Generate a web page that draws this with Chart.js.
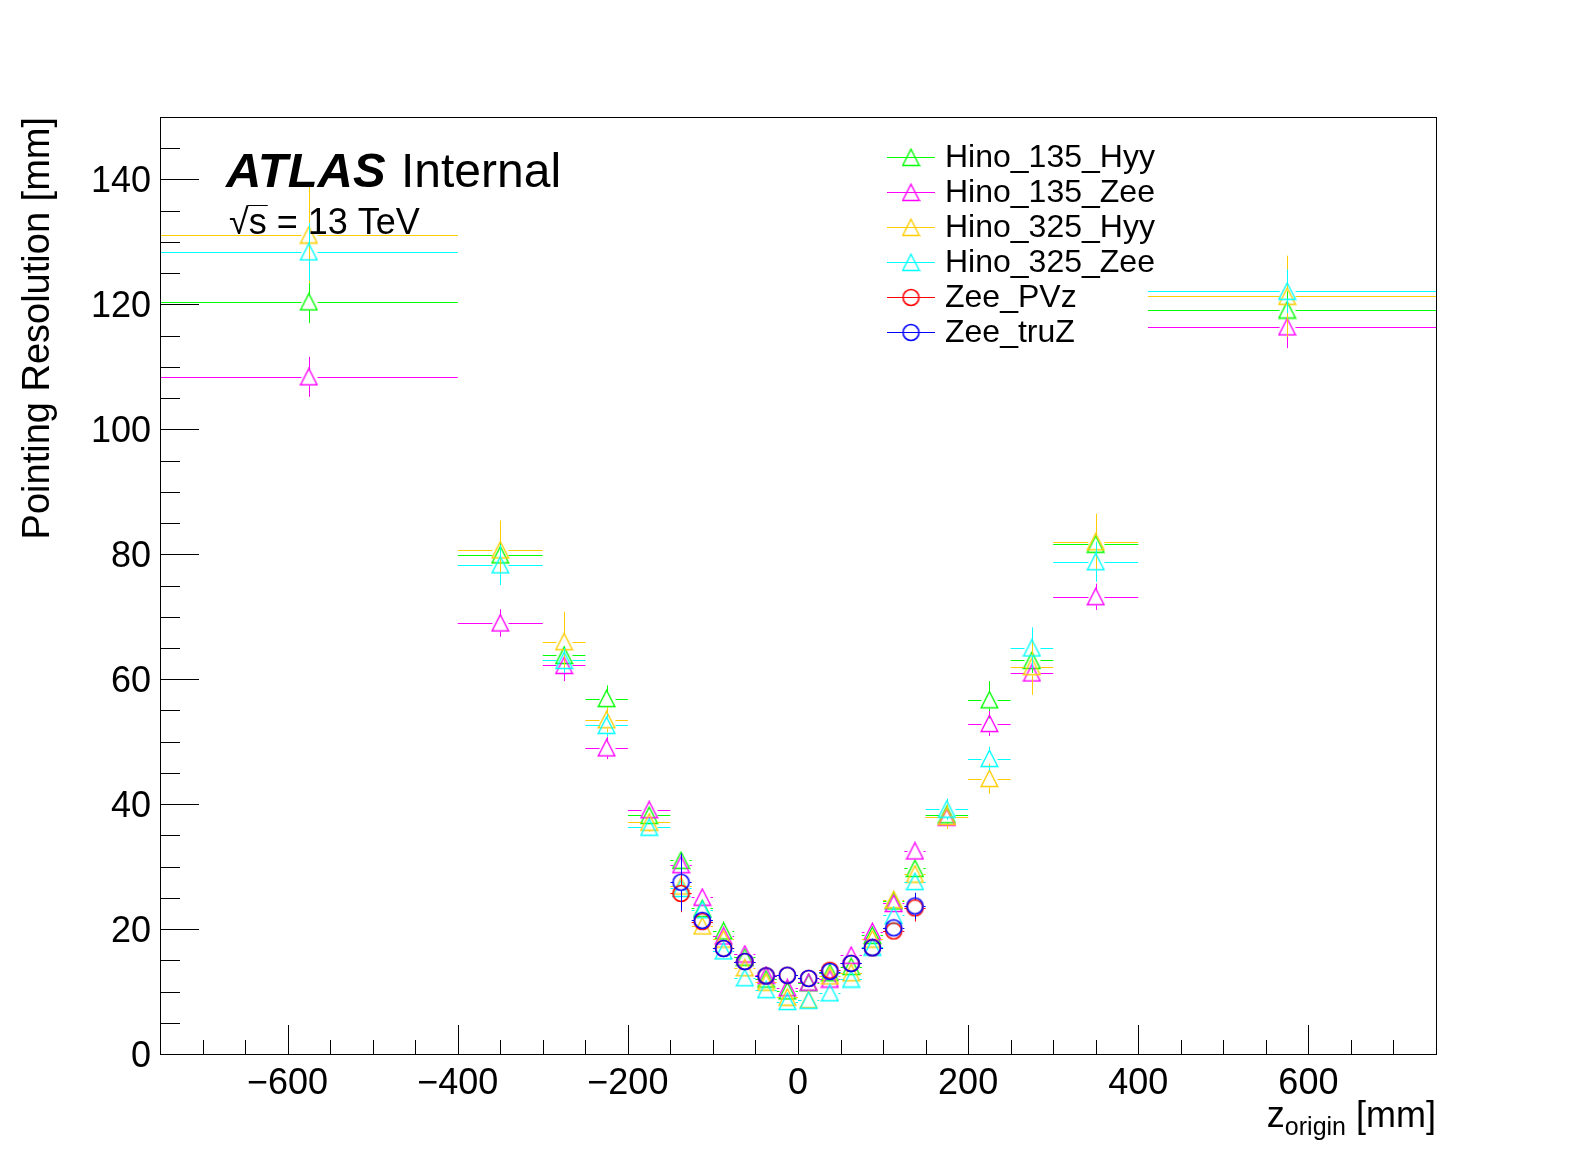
<!DOCTYPE html>
<html>
<head>
<meta charset="utf-8">
<title>Pointing Resolution</title>
<script src="https://cdn.jsdelivr.net/npm/chart.js@4.4.1/dist/chart.umd.min.js"></script>
<style>
  html, body { margin: 0; padding: 0; background: #fff; }
  canvas { display: block; }
</style>
</head>
<body>
<canvas id="resolution" width="1596" height="1172"></canvas>
<script>
// z_origin bins [mm]: centre and half width
const binCenters = [-575, -350, -275, -225, -175, -137.5, -112.5, -87.5, -62.5, -37.5, -12.5,
    12.5, 37.5, 62.5, 87.5, 112.5, 137.5, 175, 225, 275, 350, 575];
const binHalfWidths = [175, 50, 25, 25, 25, 12.5, 12.5, 12.5, 12.5, 12.5, 12.5,
    12.5, 12.5, 12.5, 12.5, 12.5, 12.5, 25, 25, 25, 50, 175];

// pointing resolution [mm] and its error, one pair of arrays per sample
const hino135Hyy = [120.4, 79.9, 63.8, 56.9, 38.2, 31.0, 23.3, 19.7, 15.5, 12.0, 10.1,
    11.4, 13.0, 14.0, 19.0, 24.5, 29.7, 38.3, 56.7, 63.0, 81.6, 119.1];
const hino135HyyErr = [3.4, 2.8, 1.5, 2.1, 1.2, 1.0, 0.9, 0.8, 0.7, 0.6, 0.6,
    0.6, 0.6, 0.7, 0.8, 1.0, 1.1, 1.3, 3.0, 2.0, 3.0, 3.0];
const hino135Zee = [108.4, 69.0, 62.2, 49.0, 39.1, 30.3, 25.1, 18.9, 16.0, 12.6, 10.6,
    11.5, 12.0, 15.8, 19.6, 24.1, 32.5, 37.9, 52.9, 61.0, 73.2, 116.4];
const hino135ZeeErr = [3.2, 2.2, 2.5, 1.8, 1.2, 1.0, 0.9, 0.8, 0.7, 0.6, 0.6,
    0.6, 0.6, 0.7, 0.8, 0.9, 1.1, 1.3, 2.0, 2.0, 2.1, 3.4];
const hino325Hyy = [131.1, 80.7, 66.0, 53.5, 37.1, 26.9, 20.5, 18.4, 13.8, 11.5, 9.1,
    8.7, 12.5, 13.0, 18.4, 24.7, 28.8, 38.0, 44.1, 62.0, 82.0, 121.3];
const hino325HyyErr = [7.7, 4.7, 4.8, 2.0, 1.5, 1.3, 1.0, 1.0, 0.8, 0.7, 0.7,
    0.7, 0.7, 0.8, 1.0, 1.2, 1.4, 2.0, 2.4, 4.5, 4.5, 6.5];
const hino325Zee = [128.4, 78.3, 63.0, 52.6, 36.3, 26.5, 23.1, 16.5, 12.2, 10.3, 8.4,
    8.6, 9.8, 12.0, 17.1, 22.2, 27.6, 39.2, 47.3, 65.0, 78.8, 122.1];
const hino325ZeeErr = [4.6, 3.2, 2.0, 1.8, 1.4, 1.0, 0.9, 0.8, 0.7, 0.6, 0.6,
    0.6, 0.6, 0.7, 0.8, 0.9, 1.0, 1.7, 1.9, 3.3, 3.2, 3.5];
// Zee samples only fill the central bins
const zeePVz = [null, null, null, null, null, 25.7, 21.2, 16.9, 14.8, 12.5, 12.6,
    12.1, 13.4, 14.5, 17.0, 19.7, 23.4, null, null, null, null, null];
const zeePVzErr = [null, null, null, null, null, 3.0, 1.0, 0.8, 0.6, 0.5, 0.5,
    0.5, 0.5, 0.6, 0.8, 1.0, 2.2, null, null, null, null, null];
const zeeTruZ = [null, null, null, null, null, 27.5, 21.4, 16.9, 14.8, 12.5, 12.6,
    12.1, 13.2, 14.5, 17.0, 20.2, 23.7, null, null, null, null, null];
const zeeTruZErr = [null, null, null, null, null, 4.6, 1.0, 0.8, 0.6, 0.5, 0.5,
    0.5, 0.5, 0.6, 0.8, 1.0, 2.1, null, null, null, null, null];

const seriesNames = ['Hino_135_Hyy', 'Hino_135_Zee', 'Hino_325_Hyy', 'Hino_325_Zee', 'Zee_PVz', 'Zee_truZ'];
const seriesValues = [hino135Hyy, hino135Zee, hino325Hyy, hino325Zee, zeePVz, zeeTruZ];
const seriesErrors = [hino135HyyErr, hino135ZeeErr, hino325HyyErr, hino325ZeeErr, zeePVzErr, zeeTruZErr];
const seriesColors = ['#00ff00', '#ff00ff', '#ffcc00', '#00ffff', '#ff0000', '#0000ff'];
const seriesMarkers = ['triangle', 'triangle', 'triangle', 'triangle', 'circle', 'circle'];

const xTickValues = [-600, -400, -200, 0, 200, 400, 600];
const yTickValues = [0, 20, 40, 60, 80, 100, 120, 140];
const xMinorStep = 50;
const yMinorStep = 5;

const FONT = '"Liberation Sans", Arial, Helvetica, sans-serif';

// open ROOT-like markers drawn once into small canvases
function makeMarker(shape, color) {
    const c = document.createElement('canvas');
    c.width = 19;
    c.height = 19;
    const g = c.getContext('2d');
    g.strokeStyle = color;
    g.beginPath();
    if (shape === 'triangle') {
        g.lineWidth = 1.4;
        g.moveTo(9.5, 1.2);
        g.lineTo(17.8, 17.5);
        g.lineTo(1.2, 17.5);
        g.closePath();
    } else {
        g.lineWidth = 1.6;
        g.arc(9.5, 9.5, 8, 0, Math.PI * 2);
    }
    g.stroke();
    return c;
}
const markerImages = seriesColors.map((col, i) => makeMarker(seriesMarkers[i], col));

// scatter datasets, later samples drawn on top (like ROOT)
const datasets = seriesNames.map((name, i) => ({
    label: name,
    data: binCenters
        .map((x, j) => ({ x: x, y: seriesValues[i][j], xErr: binHalfWidths[j], yErr: seriesErrors[i][j] }))
        .filter(p => p.y !== null),
    borderColor: seriesColors[i],
    backgroundColor: 'rgba(0,0,0,0)',
    pointStyle: markerImages[i],
    pointRadius: 8,
    showLine: false,
    order: seriesNames.length - i
}));

const errorBarPlugin = {
    id: 'errorBars',
    beforeDatasetDraw(chart, args) {
        const ds = chart.data.datasets[args.index];
        const xs = chart.scales.x;
        const ys = chart.scales.y;
        const area = chart.chartArea;
        const ctx = chart.ctx;
        const gap = 8;
        ctx.save();
        ctx.beginPath();
        ctx.rect(area.left, area.top, area.right - area.left, area.bottom - area.top);
        ctx.clip();
        ctx.strokeStyle = ds.borderColor;
        ctx.lineWidth = 1;
        ds.data.forEach(p => {
            const px = Math.round(xs.getPixelForValue(p.x)) + 0.5;
            const py = Math.round(ys.getPixelForValue(p.y)) + 0.5;
            const x0 = xs.getPixelForValue(p.x - p.xErr);
            const x1 = xs.getPixelForValue(p.x + p.xErr);
            const y0 = ys.getPixelForValue(p.y + p.yErr);
            const y1 = ys.getPixelForValue(p.y - p.yErr);
            ctx.beginPath();
            if (px - x0 > gap) {
                ctx.moveTo(x0, py); ctx.lineTo(px - gap, py);
                ctx.moveTo(px + gap, py); ctx.lineTo(x1, py);
            }
            if (py - y0 > gap) {
                ctx.moveTo(px, y0); ctx.lineTo(px, py - gap);
                ctx.moveTo(px, py + gap); ctx.lineTo(px, y1);
            }
            ctx.stroke();
        });
        ctx.restore();
    }
};

// white legend box on top of the data, like TLegend
const legendPlugin = {
    id: 'rootLegend',
    afterDatasetsDraw(chart) {
        const ctx = chart.ctx;
        ctx.save();
        ctx.fillStyle = '#fff';
        ctx.fillRect(875, 137, 273, 214);
        ctx.font = '32px ' + FONT;
        ctx.textBaseline = 'middle';
        ctx.textAlign = 'left';
        seriesNames.forEach((name, i) => {
            const y = 157.5 + i * 35;
            ctx.strokeStyle = seriesColors[i];
            ctx.lineWidth = 1;
            ctx.beginPath();
            ctx.moveTo(887, y);
            ctx.lineTo(935, y);
            ctx.stroke();
            ctx.drawImage(markerImages[i], 911 - 9.5, y - 9.5);
            ctx.fillStyle = '#000';
            ctx.fillText(name, 945, y + 1);
        });
        ctx.restore();
    }
};

// frame, inward ticks, axis titles and ATLAS label
const framePlugin = {
    id: 'rootFrame',
    afterDraw(chart) {
        const ctx = chart.ctx;
        const area = chart.chartArea;
        const xs = chart.scales.x;
        const ys = chart.scales.y;
        ctx.save();
        ctx.strokeStyle = '#000';
        ctx.lineWidth = 1;
        ctx.strokeRect(Math.round(area.left) + 0.5, Math.round(area.top) + 0.5,
            Math.round(area.right - area.left), Math.round(area.bottom - area.top));

        ctx.beginPath();
        for (let v = -700; v <= 700; v += xMinorStep) {
            const px = Math.round(xs.getPixelForValue(v)) + 0.5;
            const len = xTickValues.includes(v) ? 29 : 14;
            ctx.moveTo(px, area.bottom);
            ctx.lineTo(px, area.bottom - len);
        }
        for (let v = 0; v < 150; v += yMinorStep) {
            const py = Math.round(ys.getPixelForValue(v)) + 0.5;
            const len = yTickValues.includes(v) ? 39 : 20;
            ctx.moveTo(area.left, py);
            ctx.lineTo(area.left + len, py);
        }
        ctx.stroke();

        ctx.fillStyle = '#000';
        // y title
        ctx.save();
        ctx.translate(39, area.top);
        ctx.rotate(-Math.PI / 2);
        ctx.font = '38px ' + FONT;
        ctx.textAlign = 'right';
        ctx.textBaseline = 'middle';
        ctx.fillText('Pointing Resolution [mm]', 0, 0);
        ctx.restore();

        // x title with subscript
        const big = '36px ' + FONT;
        const small = '25px ' + FONT;
        ctx.textBaseline = 'alphabetic';
        ctx.textAlign = 'left';
        ctx.font = big;
        const wz = ctx.measureText('z').width;
        const wmm = ctx.measureText(' [mm]').width;
        ctx.font = small;
        const wsub = ctx.measureText('origin').width;
        let tx = area.right - (wz + wsub + wmm);
        ctx.font = big;
        ctx.fillText('z', tx, 1127);
        ctx.font = small;
        ctx.fillText('origin', tx + wz, 1135);
        ctx.font = big;
        ctx.fillText(' [mm]', tx + wz + wsub, 1127);

        // ATLAS Internal
        ctx.font = 'italic bold 49px ' + FONT;
        ctx.fillText('ATLAS', 226, 187);
        ctx.font = '48px ' + FONT;
        ctx.fillText('Internal', 401, 187);

        // sqrt(s) = 13 TeV
        ctx.font = '36px ' + FONT;
        const wroot = ctx.measureText('\u221A').width;
        const ws = ctx.measureText('s').width;
        ctx.fillText('\u221As = 13 TeV', 229, 234);
        ctx.beginPath();
        ctx.moveTo(229 + wroot - 1, 205.5);
        ctx.lineTo(229 + wroot + ws + 1, 205.5);
        ctx.stroke();
        ctx.restore();
    }
};

const fmt = v => (v < 0 ? '\u2212' + Math.abs(v) : String(v));

const config = {
    type: 'scatter',
    data: { datasets: datasets },
    options: {
        responsive: false,
        animation: false,
        devicePixelRatio: 1,
        events: [],
        layout: { padding: { left: 0, top: 117, right: 160, bottom: 0 } },
        plugins: {
            legend: { display: false },
            tooltip: { enabled: false }
        },
        scales: {
            x: {
                type: 'linear',
                min: -750,
                max: 750,
                afterBuildTicks: s => { s.ticks = xTickValues.map(v => ({ value: v })); },
                afterFit: s => { s.height = 118; },
                grid: { display: false, drawTicks: false },
                border: { display: false },
                ticks: {
                    autoSkip: false,
                    maxRotation: 0,
                    padding: 8,
                    color: '#000',
                    font: { family: FONT, size: 36 },
                    callback: v => fmt(v)
                }
            },
            y: {
                type: 'linear',
                min: 0,
                max: 150,
                afterBuildTicks: s => { s.ticks = yTickValues.map(v => ({ value: v })); },
                afterFit: s => { s.width = 160; },
                grid: { display: false, drawTicks: false },
                border: { display: false },
                ticks: {
                    autoSkip: false,
                    padding: 9,
                    labelOffset: 3,
                    color: '#000',
                    font: { family: FONT, size: 36 },
                    callback: v => fmt(v)
                }
            }
        }
    },
    plugins: [errorBarPlugin, legendPlugin, framePlugin]
};

const ctx = document.querySelector('#resolution');
const resolutionChart = new Chart(ctx, config);
</script>
</body>
</html>
